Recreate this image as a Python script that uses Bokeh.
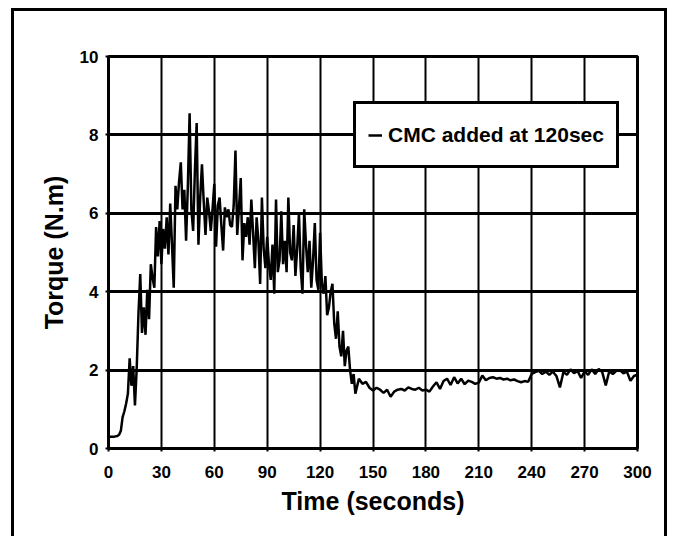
from bokeh.plotting import figure
from bokeh.models import (ColumnDataSource, Legend, LegendItem,
                          FixedTicker, Range1d, InlineStyleSheet)
from bokeh.embed import file_html
from bokeh.resources import INLINE

# ---- data ----
time_fast = list(range(0, 141))  # 1-s samples, 0..140 s
torque_fast = [
    0.30, 0.30, 0.30, 0.30, 0.31, 0.32, 0.35, 0.45, 0.80, 0.95,
    1.15, 1.40, 2.30, 1.60, 2.10, 1.10, 2.05, 3.45, 4.45, 2.95,
    3.60, 2.90, 4.05, 3.30, 4.70, 4.35, 4.10, 5.65, 4.90, 5.80,
    4.70, 5.60, 5.10, 5.90, 4.95, 6.25, 5.20, 4.10, 6.70, 6.10,
    6.80, 7.30, 6.10, 6.60, 5.30, 6.70, 8.55, 6.10, 5.55, 7.10,
    8.30, 5.20, 6.40, 7.25, 6.30, 5.45, 6.40, 6.05, 5.55, 6.10,
    6.75, 5.15, 6.20, 6.40, 5.70, 5.05, 6.15, 5.90, 6.10, 5.70,
    5.65, 6.20, 7.60, 5.45, 6.15, 6.90, 4.80, 5.75, 5.40, 5.90,
    5.20, 6.35, 5.50, 4.60, 5.90, 5.30, 4.20, 6.40, 5.10, 4.60,
    5.40, 4.70, 4.30, 5.20, 3.95, 6.35, 4.50, 4.80, 6.05, 4.70,
    5.30, 4.50, 6.40, 5.00, 4.80, 5.70, 4.40, 5.10, 6.00, 4.60,
    3.95, 6.10, 5.20, 4.50, 5.30, 4.10, 4.80, 5.75, 4.30, 4.05,
    5.50, 4.20, 3.95, 4.40, 3.40, 3.60, 4.00, 4.20, 3.20, 2.80,
    3.50, 2.60, 2.35, 3.00, 2.10, 2.50, 2.60, 2.00, 1.65, 1.90,
    1.40,
]
time_slow = list(range(142, 301, 2))  # 2-s samples, 142..300 s
torque_slow = [
    1.78, 1.65, 1.70, 1.55, 1.48, 1.55, 1.50, 1.42, 1.50, 1.32,
    1.45, 1.50, 1.52, 1.48, 1.56, 1.52, 1.50, 1.55, 1.48, 1.50,
    1.45, 1.58, 1.69, 1.52, 1.72, 1.78, 1.62, 1.82, 1.66, 1.78,
    1.64, 1.73, 1.70, 1.65, 1.68, 1.86, 1.74, 1.80, 1.82, 1.78,
    1.80, 1.76, 1.78, 1.74, 1.76, 1.72, 1.69, 1.72, 1.70, 1.90,
    1.95, 1.98, 1.90, 1.96, 1.88, 1.96, 1.85, 1.56, 1.95, 1.88,
    2.02, 1.92, 1.98, 1.80, 1.96, 1.88, 2.02, 1.90, 2.03, 1.95,
    1.61, 1.97, 1.90, 1.98, 2.00, 1.92, 1.96, 1.73, 1.85, 1.88,
]
x_ticks = [0, 30, 60, 90, 120, 150, 180, 210, 240, 270, 300]
y_ticks = [0, 2, 4, 6, 8, 10]
series_label = "CMC added at 120sec"
x_title = "Time (seconds)"
y_title = "Torque (N.m)"

FONT = "Liberation Sans"

source = ColumnDataSource(dict(t=time_fast + time_slow,
                               torque=torque_fast + torque_slow))

# outer frame drawn around the whole figure (bottom edge is outside the picture)
outer_frame_css = InlineStyleSheet(css="""
:host { position: relative; }
:host::after {
  content: "";
  position: absolute;
  left: 11px; top: 8px;
  width: 656px; height: 528px;
  box-sizing: border-box;
  border: 3px solid black;
  border-bottom: none;
  pointer-events: none;
  z-index: 10;
}
""")

p = figure(width=674, height=536, output_backend="svg", toolbar_location=None,
           x_range=Range1d(0, 300), y_range=Range1d(0, 10),
           min_border_left=108, min_border_right=37,
           min_border_top=56, min_border_bottom=88,
           stylesheets=[outer_frame_css])
p.background_fill_color = "white"
p.border_fill_color = "white"
p.outline_line_color = "black"
p.outline_line_width = 3

r = p.line("t", "torque", source=source, line_color="black", line_width=2.5)

# axes
for ax in (p.xaxis[0], p.yaxis[0]):
    ax.axis_line_color = "black"
    ax.axis_line_width = 3
    ax.major_tick_in = 0
    ax.major_tick_out = 3
    ax.major_tick_line_width = 2
    ax.minor_tick_line_color = None
    ax.major_label_text_font = FONT
    ax.major_label_text_font_style = "bold"
    ax.major_label_text_font_size = "17px"
    ax.major_label_text_color = "black"
    ax.axis_label_text_font = FONT
    ax.axis_label_text_font_style = "bold"
    ax.axis_label_text_font_size = "25px"
    ax.axis_label_text_color = "black"

p.xaxis.ticker = FixedTicker(ticks=x_ticks)
p.yaxis.ticker = FixedTicker(ticks=y_ticks)
p.xaxis.axis_label = x_title
p.yaxis.axis_label = y_title
p.xaxis.major_label_standoff = 14
p.yaxis.major_label_standoff = 7
p.xaxis.axis_label_standoff = 6
p.yaxis.axis_label_standoff = 9

p.xgrid.ticker = FixedTicker(ticks=x_ticks)
p.ygrid.ticker = FixedTicker(ticks=y_ticks)
p.xgrid.grid_line_color = "black"
p.xgrid.grid_line_width = 2
p.ygrid.grid_line_color = "black"
p.ygrid.grid_line_width = 3

legend = Legend(items=[LegendItem(label=series_label, renderers=[r])],
                location=(245, 280), orientation="vertical")
legend.border_line_color = "black"
legend.border_line_width = 3
legend.border_line_alpha = 1
legend.background_fill_color = "white"
legend.background_fill_alpha = 1
legend.label_text_font = FONT
legend.label_text_font_style = "bold"
legend.label_text_font_size = "21px"
legend.label_text_color = "black"
legend.glyph_width = 14
legend.label_standoff = 6
legend.padding = 12
legend.spacing = 0
legend.label_height = 37
legend.margin = 0
p.add_layout(legend, "center")

open("out.html", "w").write(file_html(p, INLINE))
